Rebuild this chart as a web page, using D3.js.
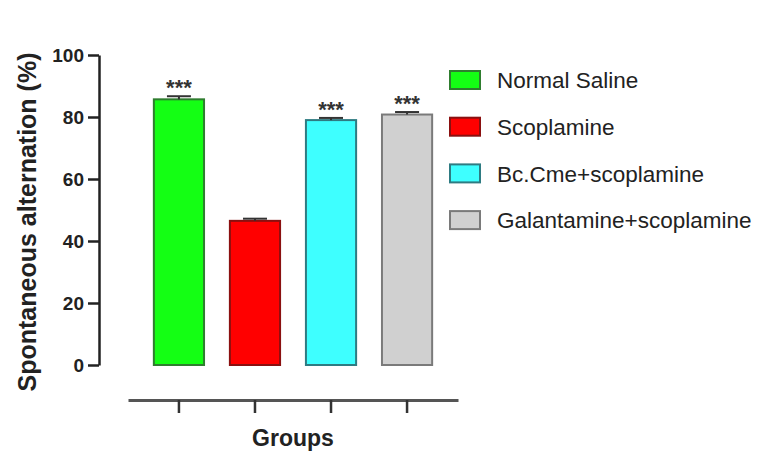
<!DOCTYPE html>
<html>
<head>
<meta charset="utf-8">
<script src="https://cdn.jsdelivr.net/npm/d3@7"></script>
<style>
  body { margin: 0; background: #fff; }
  text { font-family: "Liberation Sans", Arial, sans-serif; }
</style>
</head>
<body>
<div id="chart"></div>
<script>
// data
const groups = ["Normal Saline", "Scoplamine", "Bc.Cme+scoplamine", "Galantamine+scoplamine"];
const means = [85.7, 46.5, 79.0, 80.8];
const errors = [1.0, 0.7, 0.7, 0.8];
const stars = ["***", "", "***", "***"];
const yTicks = [0, 20, 40, 60, 80, 100];
const fills = ["#14ff14", "#ff0000", "#3effff", "#d0d0d0"];
const strokes = ["#2f7d2f", "#8a1010", "#2e7b82", "#7a7a7a"];

const svg = d3.select("#chart").append("svg")
    .attr("width", 757)
    .attr("height", 452);

const x = d3.scaleBand()
    .domain(groups)
    .range([128, 458])
    .paddingInner(0.34)
    .paddingOuter(0.34);

const y = d3.scaleLinear()
    .domain([0, 100])
    .range([365, 55]);

// y axis
const yAxis = svg.append("g")
    .attr("transform", "translate(99,0)")
    .call(d3.axisLeft(y).tickValues(yTicks).tickSize(11).tickSizeOuter(0).tickPadding(4));
yAxis.select(".domain").attr("stroke", "#222").attr("stroke-width", 2.5);
yAxis.selectAll(".tick line").attr("stroke", "#222").attr("stroke-width", 2.5);
yAxis.selectAll(".tick text")
    .attr("fill", "#222")
    .style("font-size", "19px")
    .style("font-weight", "bold")
    .attr("dy", "0.36em");

// x axis, detached below the bars
const xAxis = svg.append("g")
    .attr("transform", "translate(0,400)")
    .call(d3.axisBottom(x).tickSize(13).tickSizeOuter(0).tickFormat(""));
xAxis.select(".domain").attr("stroke", "#555").attr("stroke-width", 3);
xAxis.selectAll(".tick line").attr("stroke", "#333").attr("stroke-width", 2.5);

// bars
svg.selectAll(".bar")
    .data(groups)
    .enter().append("rect")
    .attr("class", "bar")
    .attr("x", d => x(d))
    .attr("y", (d, i) => y(means[i]))
    .attr("width", x.bandwidth())
    .attr("height", (d, i) => y(0) - y(means[i]))
    .attr("fill", (d, i) => fills[i])
    .attr("stroke", (d, i) => strokes[i])
    .attr("stroke-width", 2);

// error bars (upper only)
const eb = svg.selectAll(".err")
    .data(groups)
    .enter().append("g")
    .attr("class", "err");
eb.append("line")
    .attr("x1", d => x(d) + x.bandwidth() / 2)
    .attr("x2", d => x(d) + x.bandwidth() / 2)
    .attr("y1", (d, i) => y(means[i]))
    .attr("y2", (d, i) => y(means[i] + errors[i]))
    .attr("stroke", "#333").attr("stroke-width", 2);
eb.append("line")
    .attr("x1", d => x(d) + x.bandwidth() / 2 - 12)
    .attr("x2", d => x(d) + x.bandwidth() / 2 + 12)
    .attr("y1", (d, i) => y(means[i] + errors[i]))
    .attr("y2", (d, i) => y(means[i] + errors[i]))
    .attr("stroke", "#333").attr("stroke-width", 2);

// significance stars
svg.selectAll(".star")
    .data(groups)
    .enter().append("text")
    .attr("class", "star")
    .attr("x", d => x(d) + x.bandwidth() / 2)
    .attr("y", (d, i) => y(means[i] + errors[i]) - 1)
    .attr("text-anchor", "middle")
    .attr("fill", "#333")
    .style("font-size", "22px")
    .style("font-weight", "bold")
    .text((d, i) => stars[i]);

// axis titles
svg.append("text")
    .attr("transform", "translate(36,222) rotate(-90)")
    .attr("text-anchor", "middle")
    .attr("fill", "#222")
    .style("font-size", "25px")
    .style("font-weight", "bold")
    .text("Spontaneous alternation (%)");

svg.append("text")
    .attr("x", 293)
    .attr("y", 446)
    .attr("text-anchor", "middle")
    .attr("fill", "#222")
    .style("font-size", "23px")
    .style("font-weight", "bold")
    .text("Groups");

// legend
const legend = svg.selectAll(".legend")
    .data(groups)
    .enter().append("g")
    .attr("class", "legend")
    .attr("transform", (d, i) => `translate(450,${80 + i * 46.7})`);
legend.append("rect")
    .attr("x", 0).attr("y", -9)
    .attr("width", 30).attr("height", 18)
    .attr("fill", (d, i) => fills[i])
    .attr("stroke", (d, i) => strokes[i])
    .attr("stroke-width", 2);
legend.append("text")
    .attr("x", 47).attr("y", 0)
    .attr("dy", "0.36em")
    .attr("fill", "#222")
    .style("font-size", "22.5px")
    .text(d => d);
</script>
</body>
</html>
